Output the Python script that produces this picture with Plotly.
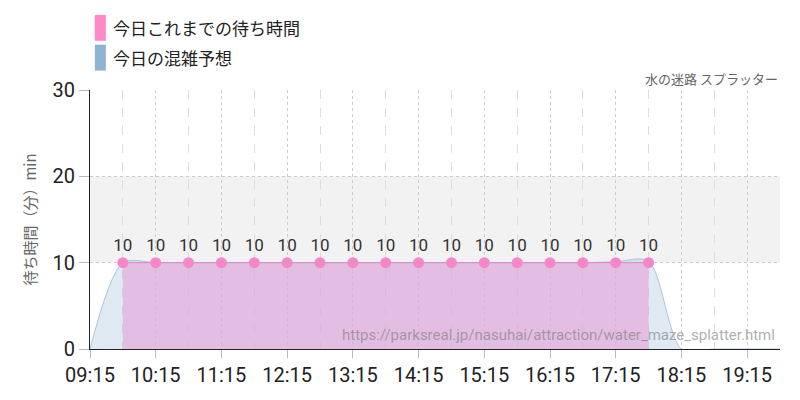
import plotly.graph_objects as go

day = "2024-05-01 "
actual_times = ["09:45", "10:15", "10:45", "11:15", "11:45", "12:15", "12:45", "13:15", "13:45",
                "14:15", "14:45", "15:15", "15:45", "16:15", "16:45", "17:15", "17:45"]
actual_wait = [10] * 17

forecast_times = ["09:15", "09:45", "10:15", "10:45", "11:15", "11:45", "12:15", "12:45", "13:15",
                  "13:45", "14:15", "14:45", "15:15", "15:45", "16:15", "16:45", "17:15", "17:45",
                  "18:15", "18:45", "19:15", "19:45"]
forecast_wait = [0, 10, 10, 10, 10, 10, 10, 10, 10, 10, 10, 10, 10, 10, 10, 10, 10.1, 10.2,
                 0, 0, 0, 0]

ax = [day + t for t in actual_times]
fx = [day + t for t in forecast_times]
jp = "Noto Sans CJK JP"

fig = go.Figure()
fig.add_hrect(y0=10, y1=20, fillcolor="#f2f2f2", line_width=0, layer="below")
fig.add_trace(go.Scatter(x=fx, y=forecast_wait, mode="lines", line=dict(shape="spline", smoothing=0.8, color="#a9c4dc", width=1),
                         fill="tozeroy", fillcolor="rgba(150,185,215,0.3)", hoverinfo="skip"))
fig.add_trace(go.Scatter(x=ax, y=actual_wait, mode="lines+markers+text", text=[str(v) for v in actual_wait],
                         textposition="top center", textfont=dict(family="Roboto", size=17, color="#333"),
                         line=dict(color="#d58ac8", width=1), marker=dict(color="#f587c9", size=11),
                         fill="tozeroy", fillcolor="rgba(230,170,220,0.7)"))

fig.update_xaxes(type="date", range=[day + "09:15", day + "19:45"], tick0=day + "09:15", dtick=3600000,
                 tickformat="%H:%M", ticks="outside", tickcolor="#bbb", ticklen=8, automargin=False,
                 showgrid=True, gridcolor="#ccc", griddash="dot",
                 minor=dict(tick0=day + "09:45", dtick=3600000, showgrid=True, gridcolor="#ddd", griddash="dash"),
                 showline=True, linecolor="#222", linewidth=1,
                 tickfont=dict(family="Roboto", size=20, color="#222"))
fig.update_yaxes(range=[0, 30], dtick=10, ticks="outside", tickcolor="#bbb", ticklen=10, automargin=False,
                 showgrid=True, gridcolor="#ccc", griddash="dot", zeroline=False,
                 showline=True, linecolor="#222", linewidth=1,
                 tickfont=dict(family="Roboto", size=20, color="#222"),
                 title=dict(text="待ち時間（分）min", font=dict(family=jp, size=15, color="#666"), standoff=12))

fig.add_shape(type="rect", xref="paper", yref="paper", x0=0.007, x1=0.023, y0=1.19, y1=1.29,
              fillcolor="#ff88c8", line_width=0)
fig.add_shape(type="rect", xref="paper", yref="paper", x0=0.007, x1=0.023, y0=1.075, y1=1.175,
              fillcolor="#8fb3d3", line_width=0)
fig.add_annotation(text="今日これまでの待ち時間", xref="paper", yref="paper", x=0.03, y=1.24,
                   xanchor="left", yanchor="middle", showarrow=False, font=dict(family=jp, size=17, color="#222"))
fig.add_annotation(text="今日の混雑予想", xref="paper", yref="paper", x=0.03, y=1.125,
                   xanchor="left", yanchor="middle", showarrow=False, font=dict(family=jp, size=17, color="#222"))
fig.add_annotation(text="水の迷路 スプラッター", xref="paper", yref="paper", x=1.0, y=1.0,
                   xanchor="right", yanchor="bottom", showarrow=False, font=dict(family=jp, size=13, color="#666"))
fig.add_annotation(text="https://parksreal.jp/nasuhai/attraction/water_maze_splatter.html", xref="paper", yref="paper",
                   x=0.995, y=0.01, xanchor="right", yanchor="bottom", showarrow=False,
                   font=dict(family="Roboto", size=15, color="rgba(120,120,120,0.6)"))

fig.update_layout(width=800, height=400, margin=dict(l=82, r=28, t=82, b=59),
                  plot_bgcolor="white", paper_bgcolor="white", showlegend=False)
fig.write_html("out.html")
